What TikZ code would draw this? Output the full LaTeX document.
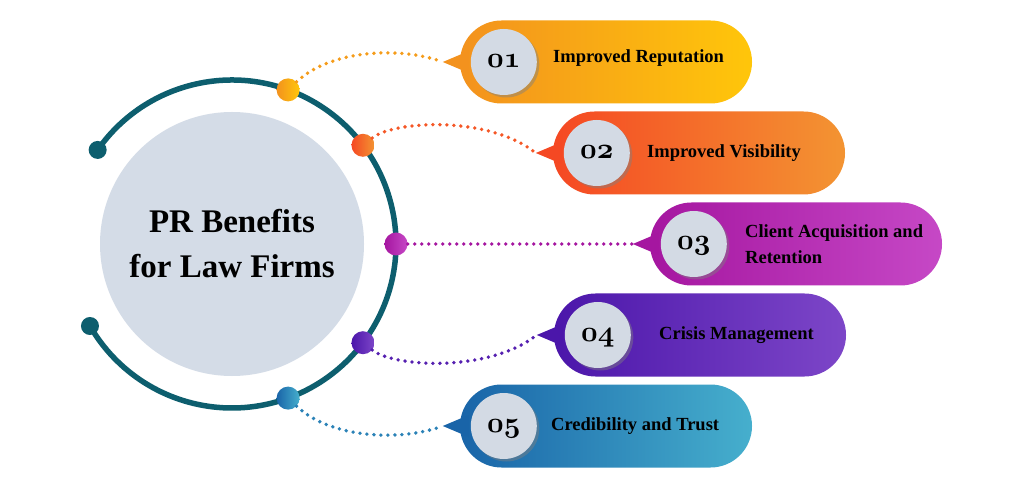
\RequirePackage{fix-cm}
\documentclass[tikz,border=0pt]{standalone}
\usepackage{fontspec}
\setmainfont{Liberation Serif}
\usepackage{xcolor}
\usepackage{tikz}
\usetikzlibrary{shapes.misc,shadows,positioning}

\definecolor{ringteal}{HTML}{0D5E6E}
\definecolor{discgrey}{HTML}{D4DCE7}
\definecolor{numgrey}{HTML}{D3DAE4}
\definecolor{oneL}{HTML}{F3921E}
\definecolor{oneR}{HTML}{FFC60A}
\definecolor{twoL}{HTML}{F54823}
\definecolor{twoR}{HTML}{F39432}
\definecolor{threeL}{HTML}{A516A0}
\definecolor{threeR}{HTML}{C648C6}
\definecolor{fourL}{HTML}{4B16AA}
\definecolor{fourR}{HTML}{7D46C8}
\definecolor{fiveL}{HTML}{1964A8}
\definecolor{fiveR}{HTML}{46AFCD}

\begin{document}
\begin{tikzpicture}[x=1pt, y=1pt,
    pill/.style={rounded rectangle, minimum width=292pt, minimum height=83pt, inner sep=0pt},
    numdisc/.style={circle, fill=numgrey, minimum size=66pt, inner sep=0pt,
        text height=12pt, text depth=0pt,
        drop shadow={shadow xshift=2.5pt, shadow yshift=-2.5pt, opacity=0.45},
        font={\fontsize{29}{29}\usefont{OML}{cmm}{b}{it}}},
    itemtext/.style={inner sep=0pt, align=left, font=\bfseries\fontsize{18.5}{26}\selectfont},
    ringdot/.style={circle, minimum size=23pt, inner sep=0pt},
    dotline/.style={line width=3.8pt, line cap=round, dash pattern=on 0pt off 7pt}]

    \useasboundingbox (0,0) rectangle (1024,490);
    \fill[white] (0,0) rectangle (1024,490);

    % centre disc and ring
    \node (centre) [circle, fill=discgrey, minimum size=264pt, inner sep=0pt, align=center,
        font=\bfseries\fontsize{33}{45}\selectfont] at (232,246) {PR Benefits\\for Law Firms};
    \draw[ringteal, line width=5.5pt] ([shift={(145:164)}]centre.center) arc[start angle=145, end angle=-150, radius=164];
    \fill[ringteal] ([shift={(145:164)}]centre.center) circle (9);
    \fill[ringteal] ([shift={(-150:164)}]centre.center) circle (9);

    % pills
    \node (pill1) [pill, left color=oneL, right color=oneR] at (606,428) {};
    \node (pill2) [pill, left color=twoL, right color=twoR] at (699,337) {};
    \node (pill3) [pill, left color=threeL, right color=threeR] at (796,246) {};
    \node (pill4) [pill, left color=fourL, right color=fourR] at (700,155) {};
    \node (pill5) [pill, left color=fiveL, right color=fiveR] at (606,64) {};

    % pointer tips
    \coordinate (tip1) at ([xshift=-17pt]pill1.west);
    \coordinate (tip2) at ([xshift=-17pt]pill2.west);
    \coordinate (tip3) at ([xshift=-17pt]pill3.west);
    \coordinate (tip4) at ([xshift=-17pt]pill4.west);
    \coordinate (tip5) at ([xshift=-17pt]pill5.west);
    \fill[oneL] ([xshift=9pt, yshift=11pt]pill1.west) -- (tip1) -- ([xshift=9pt, yshift=-11pt]pill1.west) -- cycle;
    \fill[twoL] ([xshift=9pt, yshift=11pt]pill2.west) -- (tip2) -- ([xshift=9pt, yshift=-11pt]pill2.west) -- cycle;
    \fill[threeL] ([xshift=9pt, yshift=11pt]pill3.west) -- (tip3) -- ([xshift=9pt, yshift=-11pt]pill3.west) -- cycle;
    \fill[fourL] ([xshift=9pt, yshift=11pt]pill4.west) -- (tip4) -- ([xshift=9pt, yshift=-11pt]pill4.west) -- cycle;
    \fill[fiveL] ([xshift=9pt, yshift=11pt]pill5.west) -- (tip5) -- ([xshift=9pt, yshift=-11pt]pill5.west) -- cycle;

    % number discs
    \node (num1) [numdisc] at ([xshift=44pt]pill1.west) {01};
    \node (num2) [numdisc] at ([xshift=44pt]pill2.west) {02};
    \node (num3) [numdisc] at ([xshift=44pt]pill3.west) {03};
    \node (num4) [numdisc] at ([xshift=44pt]pill4.west) {04};
    \node (num5) [numdisc] at ([xshift=44pt]pill5.west) {05};

    % item texts
    \node (txt1) [itemtext, right=16pt of num1, yshift=4pt] {Improved Reputation};
    \node (txt2) [itemtext, right=17pt of num2] {Improved Visibility};
    \node (txt3) [itemtext, right=18pt of num3] {Client Acquisition and\\Retention};
    \node (txt4) [itemtext, right=28pt of num4] {Crisis Management};
    \node (txt5) [itemtext, right=14pt of num5] {Credibility and Trust};

    % dots on the ring
    \node (dot1) [ringdot, left color=oneL, right color=oneR] at ([shift={(70:164)}]centre.center) {};
    \node (dot2) [ringdot, left color=twoL, right color=twoR] at ([shift={(37:164)}]centre.center) {};
    \node (dot3) [ringdot, left color=threeL, right color=threeR] at ([shift={(0:164)}]centre.center) {};
    \node (dot4) [ringdot, left color=fourL, right color=fourR] at ([shift={(-37:164)}]centre.center) {};
    \node (dot5) [ringdot, left color=fiveL, right color=fiveR] at ([shift={(-70:164)}]centre.center) {};

    % dotted connectors
    \draw[dotline, oneL!80!oneR] (dot1) .. controls (330,440) and (400,444) .. (tip1);
    \draw[dotline, twoL!80!twoR] (dot2) .. controls (395,370) and (490,374) .. (tip2);
    \draw[dotline, threeL] (dot3) -- (tip3);
    \draw[dotline, fourL!80!fourR] (dot4) .. controls (395,122) and (490,118) .. (tip4);
    \draw[dotline, fiveL!60!fiveR] (dot5) .. controls (330,52) and (400,48) .. (tip5);
\end{tikzpicture}
\end{document}
